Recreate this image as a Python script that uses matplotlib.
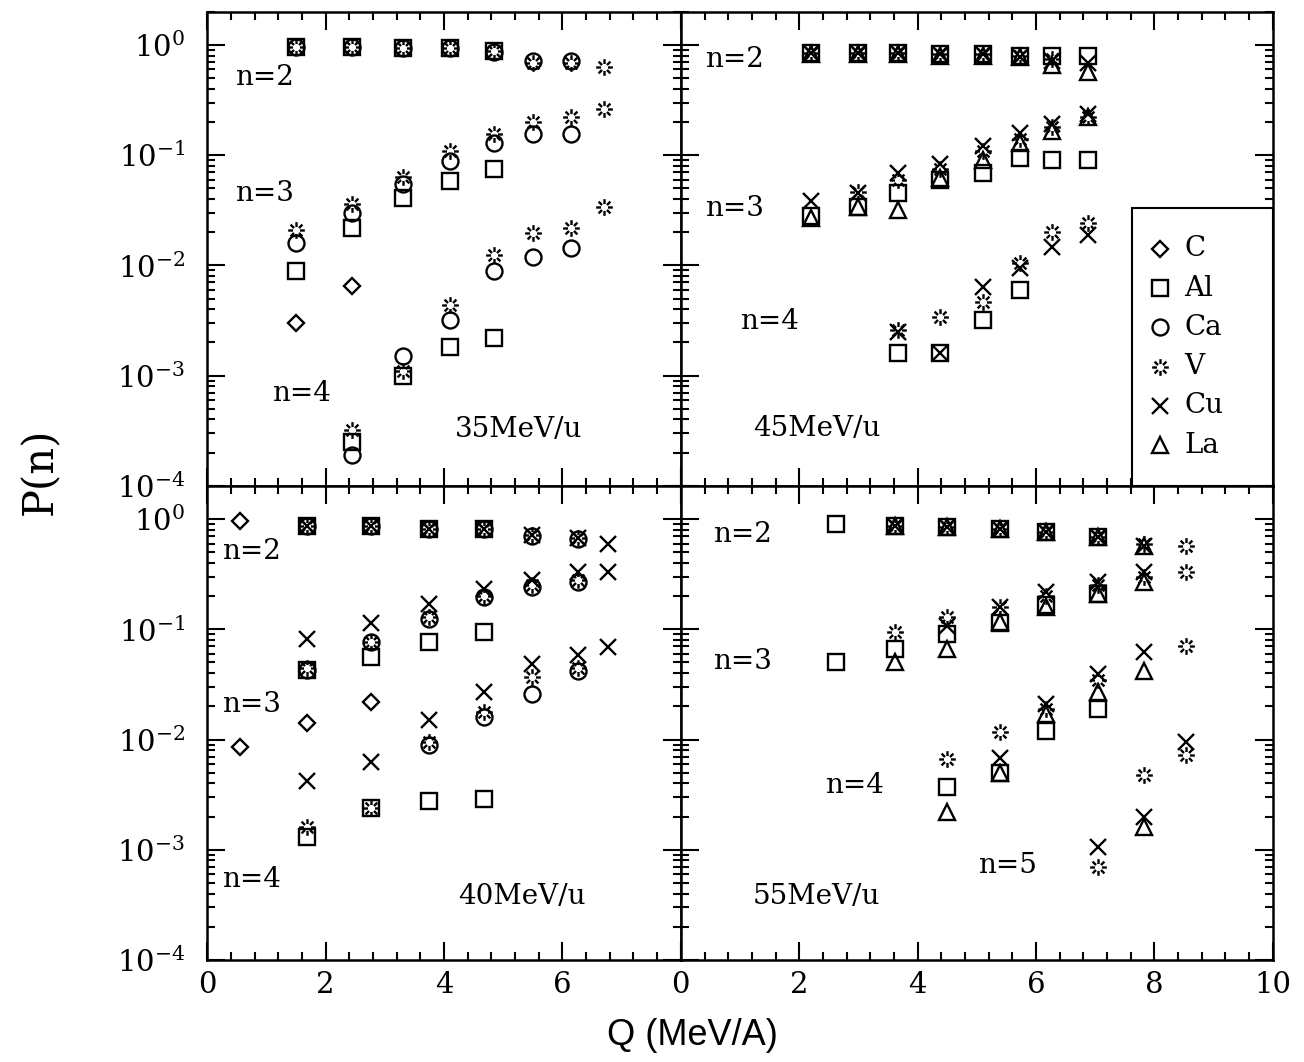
import numpy as np
import matplotlib
matplotlib.use("Agg")
import matplotlib.pyplot as plt
from matplotlib.path import Path
from matplotlib.patches import Rectangle
from matplotlib.ticker import LogLocator, MultipleLocator, FixedLocator, NullFormatter, FixedFormatter

plt.rcParams["font.family"] = ["DejaVu Serif"]
plt.rcParams["mathtext.fontset"] = "dejavuserif"

nan = np.nan

# ---- 35 MeV/u : rows are n=2, n=3, n=4 ----
Q35 = [1.5, 2.45, 3.3, 4.1, 4.85, 5.5, 6.15, 6.7]
C35 = [[3.0e-3, 6.5e-3, nan, nan, nan, nan, nan, nan]]
AL35 = [[0.95, 0.95, 0.93, 0.93, 0.88, nan, nan, nan],
        [8.8e-3, 0.022, 0.041, 0.058, 0.075, nan, nan, nan],
        [nan, 2.5e-4, 1.0e-3, 1.8e-3, 2.2e-3, nan, nan, nan]]
CA35 = [[0.95, 0.95, 0.93, 0.93, 0.86, 0.71, 0.71, nan],
        [0.016, 0.030, 0.055, 0.089, 0.13, 0.155, 0.155, nan],
        [nan, 1.9e-4, 1.5e-3, 3.2e-3, 8.8e-3, 0.012, 0.0144, nan]]
V35 = [[0.95, 0.95, 0.93, 0.93, 0.88, 0.68, 0.68, 0.63],
       [0.021, 0.036, 0.063, 0.11, 0.155, 0.20, 0.22, 0.26],
       [nan, 3.2e-4, 1.1e-3, 4.4e-3, 0.0124, 0.0195, 0.022, 0.034]]

# ---- 45 MeV/u ----
Q45 = [2.2, 3.0, 3.67, 4.38, 5.1, 5.73, 6.27, 6.88]
AL45 = [[0.85, 0.85, 0.85, 0.83, 0.83, 0.80, 0.80, 0.80],
        [0.028, 0.034, 0.045, 0.059, 0.069, 0.095, 0.090, 0.090],
        [nan, nan, 1.6e-3, 1.6e-3, 3.2e-3, 6.0e-3, nan, nan]]
V45 = [[0.85, 0.85, 0.85, 0.83, 0.83, 0.80, 0.75, nan],
       [nan, 0.046, 0.060, 0.075, 0.11, 0.14, 0.18, 0.22],
       [nan, nan, 2.6e-3, 3.4e-3, 4.7e-3, 0.0105, 0.020, 0.024]]
CU45 = [[0.85, 0.85, 0.85, 0.83, 0.82, 0.78, 0.72, 0.68],
        [0.038, 0.045, 0.069, 0.083, 0.12, 0.16, 0.19, 0.235],
        [nan, nan, 2.5e-3, 1.6e-3, 6.4e-3, 0.0095, 0.0147, 0.019]]
LA45 = [[0.83, 0.83, 0.83, 0.80, 0.80, 0.78, 0.65, 0.57],
        [0.027, 0.034, 0.032, 0.062, 0.090, 0.13, 0.165, 0.22]]

# ---- 40 MeV/u ----
Q40 = [0.55, 1.68, 2.77, 3.75, 4.67, 5.48, 6.27, 6.77]
C40 = [[0.96, nan, nan, nan, nan, nan, nan, nan],
       [8.5e-3, 0.014, 0.022, nan, nan, nan, nan, nan]]
AL40 = [[nan, 0.86, 0.86, 0.81, 0.81, nan, nan, nan],
        [nan, 0.043, 0.056, 0.076, 0.094, nan, nan, nan],
        [nan, 1.3e-3, 2.4e-3, 2.8e-3, 2.9e-3, nan, nan, nan]]
CA40 = [[nan, 0.86, 0.86, 0.81, 0.81, 0.70, 0.66, nan],
        [nan, 0.043, 0.076, 0.123, 0.195, 0.24, 0.27, nan],
        [nan, nan, nan, 9.0e-3, 0.016, 0.026, 0.042, nan]]
V40 = [[nan, 0.86, 0.86, 0.81, 0.81, 0.72, 0.68, nan],
       [nan, 0.045, 0.076, 0.13, 0.20, 0.25, 0.28, nan],
       [nan, 1.6e-3, 2.4e-3, 9.6e-3, 0.0177, 0.037, 0.045, nan]]
CU40 = [[nan, 0.86, 0.86, 0.81, 0.81, 0.72, 0.68, 0.59],
        [nan, 0.081, 0.115, 0.17, 0.23, 0.28, 0.33, 0.33],
        [nan, 4.2e-3, 6.3e-3, 0.015, 0.027, 0.048, 0.059, 0.069]]

# ---- 55 MeV/u : rows are n=2 .. n=5 ----
Q55 = [2.62, 3.62, 4.5, 5.39, 6.17, 7.04, 7.82, 8.53]
AL55 = [[0.90, 0.86, 0.85, 0.81, 0.76, 0.69, nan, nan],
        [0.050, 0.066, 0.090, 0.115, 0.165, 0.21, nan, nan],
        [nan, nan, 3.7e-3, 5.0e-3, 0.012, 0.019, nan, nan]]
V55 = [[nan, 0.86, 0.85, 0.81, 0.76, 0.69, 0.60, 0.57],
       [nan, 0.094, 0.128, 0.16, 0.20, 0.25, 0.30, 0.33],
       [nan, nan, 6.6e-3, 0.0118, 0.019, 0.035, nan, 0.070],
       [nan, nan, nan, nan, nan, 7.0e-4, 4.8e-3, 7.3e-3]]
CU55 = [[nan, 0.86, 0.85, 0.81, 0.76, 0.69, 0.57, nan],
        [nan, nan, 0.107, 0.16, 0.22, 0.27, 0.33, nan],
        [nan, nan, nan, 6.8e-3, 0.021, 0.039, 0.062, nan],
        [nan, nan, nan, nan, nan, 1.07e-3, 2.0e-3, 9.6e-3]]
LA55 = [[nan, 0.86, 0.85, 0.81, 0.76, 0.69, 0.57, nan],
        [nan, 0.050, 0.066, 0.116, 0.16, 0.21, 0.27, nan],
        [nan, nan, 2.2e-3, 5.0e-3, 0.017, 0.027, 0.042, nan],
        [nan, nan, nan, nan, nan, nan, 1.6e-3, nan]]

ELEMENTS = ["C", "Al", "Ca", "V", "Cu", "La"]


def burst_marker():
    """Asterisk with an open centre, used for V."""
    verts, codes = [], []
    for a in np.radians(np.arange(0, 360, 45) + 90):
        verts += [(0.42 * np.cos(a), 0.42 * np.sin(a)), (np.cos(a), np.sin(a))]
        codes += [Path.MOVETO, Path.LINETO]
    return Path(verts, codes)


MEW = 1.7
STYLE = {
    "C":  dict(marker="D", ms=8),
    "Al": dict(marker="s", ms=11),
    "Ca": dict(marker="o", ms=11.5),
    "V":  dict(marker=burst_marker(), ms=12),
    "Cu": dict(marker="x", ms=11),
    "La": dict(marker="^", ms=11.5),
}
for s in STYLE.values():
    s.update(mfc="none", mec="black", mew=MEW, ls="none")


def draw(ax, q, rows, el):
    for row in rows:
        ax.plot(q, row, **STYLE[el], zorder=3)


def setup(ax, xmax, xlabels, ylabels):
    ax.set_yscale("log")
    ax.set_ylim(1e-4, 2)
    ax.set_xlim(0, xmax)
    ax.yaxis.set_major_locator(LogLocator(base=10, numticks=10))
    ax.yaxis.set_minor_locator(LogLocator(base=10, subs=np.arange(2, 10), numticks=20))
    ax.yaxis.set_minor_formatter(NullFormatter())
    ax.xaxis.set_major_locator(MultipleLocator(2))
    ax.xaxis.set_minor_locator(MultipleLocator(0.4))
    ax.tick_params(which="both", direction="in", top=True, right=True, width=1.5)
    ax.tick_params(which="major", length=13, labelsize=21)
    ax.tick_params(which="minor", length=6)
    ax.tick_params(axis="y", pad=16)
    ax.tick_params(axis="x", pad=8)
    if xlabels is None:
        ax.tick_params(labelbottom=False)
    else:
        ticks = list(range(0, int(xmax) + 1, 2))
        ax.xaxis.set_major_locator(FixedLocator(ticks))
        ax.xaxis.set_major_formatter(FixedFormatter(xlabels))
    if not ylabels:
        ax.tick_params(labelleft=False)
    for sp in ax.spines.values():
        sp.set_linewidth(1.8)


def label(ax, x, y, s):
    ax.text(x, y, s, transform=ax.transAxes, fontsize=20, ha="left", va="center")


fig = plt.figure(figsize=(13.04, 10.62), dpi=100)
gs = fig.add_gridspec(2, 2, width_ratios=[8, 10], left=0.159, right=0.976,
                      top=0.989, bottom=0.096, hspace=0, wspace=0)
ax35 = fig.add_subplot(gs[0, 0])
ax45 = fig.add_subplot(gs[0, 1])
ax40 = fig.add_subplot(gs[1, 0])
ax55 = fig.add_subplot(gs[1, 1])

setup(ax35, 8, None, True)
setup(ax45, 10, None, False)
setup(ax40, 8, ["0", "2", "4", "6", ""], True)
setup(ax55, 10, ["0", "2", "4", "6", "8", "10"], False)

# 35 MeV/u
draw(ax35, Q35, C35, "C")
draw(ax35, Q35, AL35, "Al")
draw(ax35, Q35, CA35, "Ca")
draw(ax35, Q35, V35, "V")
label(ax35, 0.059, 0.861, "n=2")
label(ax35, 0.059, 0.616, "n=3")
label(ax35, 0.137, 0.195, "n=4")
label(ax35, 0.523, 0.118, "35MeV/u")

# 45 MeV/u
draw(ax45, Q45, AL45, "Al")
draw(ax45, Q45, V45, "V")
draw(ax45, Q45, CU45, "Cu")
draw(ax45, Q45, LA45, "La")
label(ax45, 0.041, 0.899, "n=2")
label(ax45, 0.041, 0.584, "n=3")
label(ax45, 0.100, 0.347, "n=4")
label(ax45, 0.122, 0.122, "45MeV/u")

# 40 MeV/u
draw(ax40, Q40, C40, "C")
draw(ax40, Q40, AL40, "Al")
draw(ax40, Q40, CA40, "Ca")
draw(ax40, Q40, V40, "V")
draw(ax40, Q40, CU40, "Cu")
label(ax40, 0.032, 0.862, "n=2")
label(ax40, 0.032, 0.538, "n=3")
label(ax40, 0.032, 0.169, "n=4")
label(ax40, 0.530, 0.133, "40MeV/u")

# 55 MeV/u
draw(ax55, Q55, AL55, "Al")
draw(ax55, Q55, V55, "V")
draw(ax55, Q55, CU55, "Cu")
draw(ax55, Q55, LA55, "La")
label(ax55, 0.054, 0.898, "n=2")
label(ax55, 0.054, 0.629, "n=3")
label(ax55, 0.243, 0.369, "n=4")
label(ax55, 0.502, 0.199, "n=5")
label(ax55, 0.122, 0.133, "55MeV/u")

# symbol key, boxed in the lower right of the 45 MeV/u panel
ax45.add_patch(Rectangle((0.762, 0.0), 0.238, 0.586, transform=ax45.transAxes,
                         facecolor="white", edgecolor="black", lw=1.5, zorder=4))
ys = np.linspace(0.50, 0.086, len(ELEMENTS))
for el, yy in zip(ELEMENTS, ys):
    ax45.plot([0.809], [yy], transform=ax45.transAxes, clip_on=False, zorder=5, **STYLE[el])
    ax45.text(0.851, yy, el, transform=ax45.transAxes, fontsize=20,
              ha="left", va="center", zorder=5)

fig.text(0.531, 0.025, "Q (MeV/A)", ha="center", va="center", fontsize=26,
         family="Liberation Sans")
fig.text(0.031, 0.556, "P(n)", ha="center", va="center", rotation=90, fontsize=30)

fig.savefig("out.png", dpi=100)
